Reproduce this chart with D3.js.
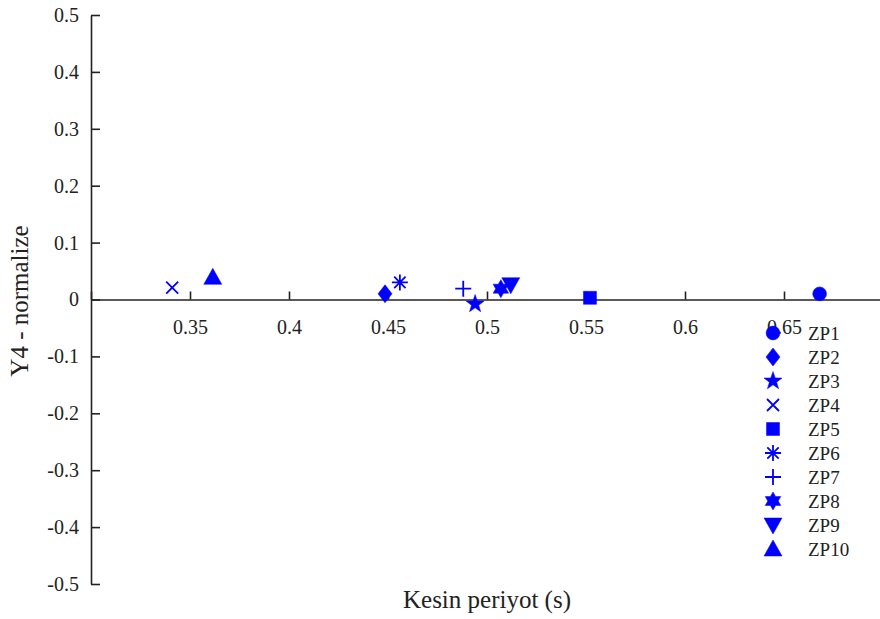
<!DOCTYPE html>
<html>
<head>
<meta charset="utf-8">
<script src="https://cdn.jsdelivr.net/npm/d3@7"></script>
<style>
  body { margin: 0; background: #fff; }
  svg text { font-family: "Liberation Serif", "Times New Roman", serif; fill: #222; }
</style>
</head>
<body>
<svg id="chart" width="880" height="619"></svg>
<script>
// data
const names = ["ZP1", "ZP2", "ZP3", "ZP4", "ZP5", "ZP6", "ZP7", "ZP8", "ZP9", "ZP10"];
const periods = [0.668, 0.4485, 0.494, 0.341, 0.552, 0.456, 0.488, 0.507, 0.512, 0.3615];
const y4Values = [0.010, 0.010, -0.008, 0.021, 0.003, 0.030, 0.019, 0.019, 0.026, 0.039];
const markers = ["circle", "diamond", "star", "x", "square", "asterisk", "plus", "hexagram", "triDown", "triUp"];
const xTicks = [0.3, 0.35, 0.4, 0.45, 0.5, 0.55, 0.6, 0.65, 0.7];
const xTickLabels = ["", "0.35", "0.4", "0.45", "0.5", "0.55", "0.6", "0.65", ""];
const yTicks = [-0.5, -0.4, -0.3, -0.2, -0.1, 0, 0.1, 0.2, 0.3, 0.4, 0.5];

const blue = "#0000ff";
const serif = '"Liberation Serif", "Times New Roman", serif';
const svg = d3.select("#chart");

const x = d3.scaleLinear().domain([0.3, 0.7]).range([91, 883]);
const y = d3.scaleLinear().domain([-0.5, 0.5]).range([584, 15]);

// marker paths, centred on 0,0
function starPath(ro, ri, n, rot) {
    let pts = [];
    for (let i = 0; i < n * 2; i++) {
        let r = i % 2 == 0 ? ro : ri;
        let a = rot + i * Math.PI / n;
        pts.push([r * Math.sin(a), -r * Math.cos(a)]);
    }
    return "M" + pts.map(p => p[0].toFixed(2) + "," + p[1].toFixed(2)).join("L") + "Z";
}

function markerPath(type) {
    switch (type) {
        case "circle": return d3.symbol(d3.symbolCircle, 150)();
        case "diamond": return "M0,-9L7,0L0,9L-7,0Z";
        case "star": return starPath(9.5, 3.8, 5, 0);
        case "x": return "M-6,-6L6,6M-6,6L6,-6";
        case "square": return "M-6.5,-6.5H6.5V6.5H-6.5Z";
        case "asterisk": return "M0,-8V8M-8,0H8M-5.7,-5.7L5.7,5.7M-5.7,5.7L5.7,-5.7";
        case "plus": return "M0,-8V8M-8,0H8";
        case "hexagram": return starPath(9, 5.2, 6, 0);
        case "triDown": return "M-9,-7H9L0,9Z";
        case "triUp": return "M-9,7H9L0,-9Z";
    }
}

const stroked = t => t == "x" || t == "asterisk" || t == "plus";

function drawMarker(g, type) {
    g.append("path")
        .attr("d", markerPath(type))
        .attr("fill", stroked(type) ? "none" : blue)
        .attr("stroke", blue)
        .attr("stroke-width", stroked(type) ? 1.8 : 0.5);
}

// axes
const xAxis = d3.axisBottom(x)
    .tickValues(xTicks)
    .tickFormat((d, i) => xTickLabels[i])
    .tickSizeInner(-8)
    .tickSizeOuter(0)
    .tickPadding(16);

const yAxis = d3.axisLeft(y)
    .tickValues(yTicks)
    .tickFormat(d => String(+d.toFixed(2)))
    .tickSizeInner(-9)
    .tickSizeOuter(0)
    .tickPadding(12);

const gx = svg.append("g")
    .attr("transform", `translate(0,${y(0)})`)
    .call(xAxis);

const gy = svg.append("g")
    .attr("transform", `translate(${x(0.3)},0)`)
    .call(yAxis);

[gx, gy].forEach(g => {
    g.attr("font-family", null).attr("font-size", null);
    g.selectAll("path, line").attr("stroke", "#222").attr("stroke-width", 1.6);
    g.selectAll("text")
        .style("font-family", serif)
        .style("font-size", "20px")
        .attr("fill", "#222");
});
gx.selectAll("text").attr("dy", "0.9em");

// axis titles
svg.append("text")
    .attr("x", 487).attr("y", 608)
    .attr("text-anchor", "middle")
    .style("font-size", "25px")
    .text("Kesin periyot (s)");

svg.append("text")
    .attr("transform", "translate(28,301) rotate(-90)")
    .attr("text-anchor", "middle")
    .style("font-size", "25px")
    .text("Y4 - normalize");

// points
names.forEach((n, i) => {
    let g = svg.append("g")
        .attr("transform", `translate(${x(periods[i])},${y(y4Values[i])})`);
    drawMarker(g, markers[i]);
});

// legend
const legendY = d3.scaleLinear().domain([0, 9]).range([333, 549]);
names.forEach((n, i) => {
    let g = svg.append("g")
        .attr("transform", `translate(773,${legendY(i)})`);
    drawMarker(g, markers[i]);
    g.append("text")
        .attr("x", 35).attr("y", 0)
        .attr("dy", "0.35em")
        .style("font-size", "19px")
        .text(n);
});
</script>
</body>
</html>
